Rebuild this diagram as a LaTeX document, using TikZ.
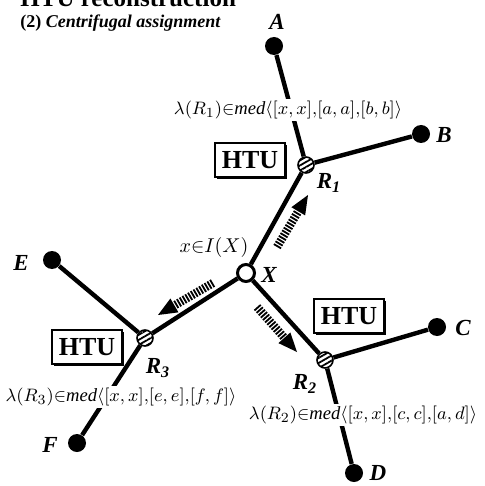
\documentclass[tikz,border=0pt]{standalone}
\usepackage{amsmath}
\usepackage{fontspec}
\setmainfont{Liberation Serif}
\usetikzlibrary{arrows.meta, patterns.meta, shadows}
\tikzstyle{leaf}      = [circle, fill=black, minimum size=9pt, inner sep=0pt]
\tikzstyle{recon}     = [circle, draw=black, line width=0.8pt, minimum size=8pt, inner sep=0pt,
                         preaction={fill=white}, pattern={Lines[angle=30, distance=2.2pt, line width=0.9pt]}]
\tikzstyle{root}      = [circle, draw=black, fill=white, line width=1.5pt, minimum size=8.5pt, inner sep=0pt]
\tikzstyle{htu}       = [rectangle, draw=black, fill=white, line width=0.9pt, minimum width=35pt,
                         minimum height=17pt, font=\fontsize{13}{15}\selectfont\bfseries,
                         drop shadow={shadow xshift=0.9pt, shadow yshift=-0.9pt, fill=black, opacity=1}]
\tikzstyle{branch}    = [line width=2.2pt]
\tikzstyle{flow}      = [line width=4.2pt, dash pattern=on 0.9pt off 0.7pt,
                         -{Triangle[length=9.5pt, width=8pt, line width=0pt]}]
\tikzstyle{leaflabel} = [font=\fontsize{11.5}{13}\selectfont\bfseries\itshape, inner sep=0pt]
\tikzstyle{interval}  = [fill=white, inner sep=1pt, font=\fontsize{9.3}{11}\selectfont]
\begin{document}
\begin{tikzpicture}[x=0.5pt, y=-0.5pt]
    \useasboundingbox (0,0) rectangle (484,486);
    % title
    \node (title) [anchor=base west, inner sep=0pt, font=\fontsize{12.5}{14}\selectfont\bfseries] at (20,7) {HTU reconstruction};
    \node (subtitle) [anchor=base west, inner sep=0pt, font=\fontsize{9}{11}\selectfont\bfseries] at (20,28) {(2) \textit{Centrifugal assignment}};

    % tree nodes
    \node (X) [root] at (246,273) {};
    \node (R1) [recon] at (306,165) {};
    \node (R2) [recon] at (325,360) {};
    \node (R3) [recon] at (145,338) {};
    \node (A) [leaf] at (274,46) {};
    \node (B) [leaf] at (421,134) {};
    \node (C) [leaf] at (437,327) {};
    \node (D) [leaf] at (354,473) {};
    \node (E) [leaf] at (52,260) {};
    \node (F) [leaf] at (77,443) {};

    % labels
    \node (lA) [leaflabel] at (277,22) {A};
    \node (lB) [leaflabel] at (444,135) {B};
    \node (lC) [leaflabel] at (463,328) {C};
    \node (lD) [leaflabel] at (378,473) {D};
    \node (lE) [leaflabel] at (21,263) {E};
    \node (lF) [leaflabel] at (50,445) {F};
    \node (lX) [leaflabel] at (269,275) {X};
    \node (lR1) [leaflabel] at (329,183) {R\textsubscript{1}};
    \node (lR2) [leaflabel] at (305,384) {R\textsubscript{2}};
    \node (lR3) [leaflabel] at (158,368) {R\textsubscript{3}};
    \node (lx) [font=\fontsize{10}{12}\selectfont, inner sep=0pt] at (214,247) {$x{\in}I(X)$};

    % HTU boxes
    \node (htu1) [htu] at (250,160) {HTU};
    \node (htu2) [htu] at (349,316) {HTU};
    \node (htu3) [htu] at (87,347) {HTU};

    % branches
    \draw[branch] (A) -- (R1);
    \draw[branch] (B) -- (R1);
    \draw[branch] (X) -- (R1);
    \draw[branch] (C) -- (R2);
    \draw[branch] (D) -- (R2);
    \draw[branch] (X) -- (R2);
    \draw[branch] (E) -- (R3);
    \draw[branch] (F) -- (R3);
    \draw[branch] (X) -- (R3);

    % centrifugal flow
    \coordinate (f1s) at (277,247);
    \coordinate (f1e) at (308,195);
    \coordinate (f2s) at (257,307);
    \coordinate (f2e) at (297,352);
    \coordinate (f3s) at (213,283);
    \coordinate (f3e) at (158,315);
    \draw[flow] (f1s) -- (f1e);
    \draw[flow] (f2s) -- (f2e);
    \draw[flow] (f3s) -- (f3e);

    % assigned intervals
    \node (m1) [interval] at (288,110) {$\lambda(R_1){\in}\mathit{med}\langle[x,x]{,}[a,a]{,}[b,b]\rangle$};
    \node (m2) [interval] at (363,415) {$\lambda(R_2){\in}\mathit{med}\langle[x,x]{,}[c,c]{,}[a,d]\rangle$};
    \node (m3) [interval] at (121,397) {$\lambda(R_3){\in}\mathit{med}\langle[x,x]{,}[e,e]{,}[f,f]\rangle$};
\end{tikzpicture}
\end{document}
